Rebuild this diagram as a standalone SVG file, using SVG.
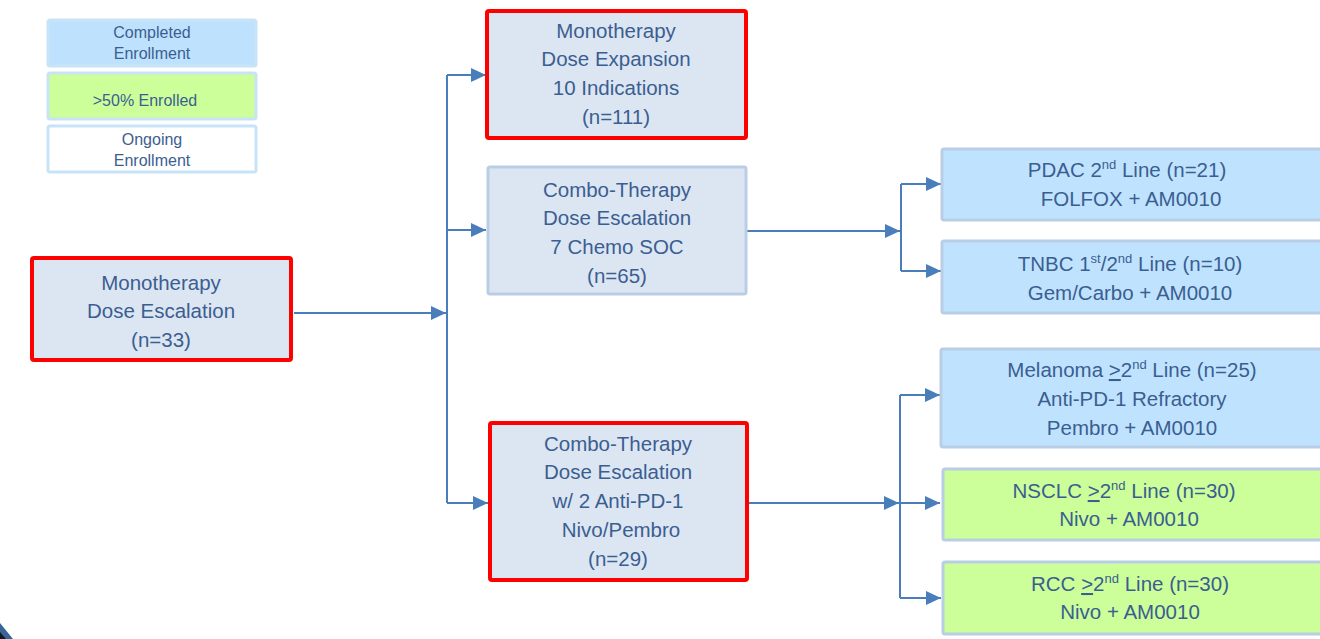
<svg xmlns="http://www.w3.org/2000/svg" width="1320" height="639" viewBox="0 0 1320 639">
  <defs>
    <marker id="arrow" markerUnits="userSpaceOnUse" markerWidth="16" markerHeight="14" refX="15" refY="7" orient="auto">
      <path d="M0,0 L15,7 L0,14 z" fill="#4a7ebb"/>
    </marker>
    <style>
      text { font-family: "Liberation Sans", Arial, sans-serif; fill: #3b5e91; text-anchor: middle; }
      .main { font-size: 20.5px; }
      .legend { font-size: 16px; }
      .sup { font-size: 13px; }
      .red { fill: #dce6f2; stroke: #ff0000; stroke-width: 4; }
      .grey { fill: #dce6f2; stroke: #b9cde5; stroke-width: 3; }
      .done { fill: #bfe3fe; stroke: #b9cde5; stroke-width: 3; }
      .half { fill: #ccfe99; stroke: #b9cde5; stroke-width: 3; }
      .leg { stroke: #c8e3f8; stroke-width: 3; }
      .conn { fill: none; stroke: #4a7ebb; stroke-width: 2; }
      .ul { text-decoration: underline; }
    </style>
  </defs>

  <rect x="0" y="0" width="1320" height="639" fill="#ffffff"/>

  <!-- legend -->
  <g id="legend">
    <rect class="leg" x="48" y="20" width="208" height="46" rx="2" fill="#bee2fd"/>
    <text class="legend" x="152" y="38">Completed</text>
    <text class="legend" x="152" y="59">Enrollment</text>
    <rect class="leg" x="48" y="73" width="208" height="46" rx="2" fill="#ccfe99"/>
    <text class="legend" x="145" y="106">&gt;50% Enrolled</text>
    <rect class="leg" x="48" y="126" width="208" height="46" rx="2" fill="#ffffff"/>
    <text class="legend" x="152" y="145">Ongoing</text>
    <text class="legend" x="152" y="166">Enrollment</text>
  </g>

  <!-- connectors -->
  <g id="connectors">
    <path class="conn" d="M294,313 H446" marker-end="url(#arrow)"/>
    <path class="conn" d="M447,75 V503"/>
    <path class="conn" d="M447,75 H486" marker-end="url(#arrow)"/>
    <path class="conn" d="M447,230 H486" marker-end="url(#arrow)"/>
    <path class="conn" d="M447,503 H488" marker-end="url(#arrow)"/>

    <path class="conn" d="M747,231 H900" marker-end="url(#arrow)"/>
    <path class="conn" d="M901,184 V271"/>
    <path class="conn" d="M901,184 H941" marker-end="url(#arrow)"/>
    <path class="conn" d="M901,271 H941" marker-end="url(#arrow)"/>

    <path class="conn" d="M748,503 H899" marker-end="url(#arrow)"/>
    <path class="conn" d="M900,395 V598"/>
    <path class="conn" d="M900,395 H940" marker-end="url(#arrow)"/>
    <path class="conn" d="M900,503 H940" marker-end="url(#arrow)"/>
    <path class="conn" d="M900,598 H941" marker-end="url(#arrow)"/>
  </g>

  <!-- first stage -->
  <g id="mono-escalation">
    <rect class="red" x="32" y="258" width="259" height="102" rx="2"/>
    <text class="main" x="161" y="290">Monotherapy</text>
    <text class="main" x="161" y="318">Dose Escalation</text>
    <text class="main" x="161" y="347">(n=33)</text>
  </g>

  <!-- second stage -->
  <g id="mono-expansion">
    <rect class="red" x="487" y="11" width="259" height="127" rx="2"/>
    <text class="main" x="616" y="38">Monotherapy</text>
    <text class="main" x="616" y="66">Dose Expansion</text>
    <text class="main" x="616" y="95">10 Indications</text>
    <text class="main" x="616" y="124">(n=111)</text>
  </g>

  <g id="combo-chemo">
    <rect class="grey" x="488" y="167" width="258" height="127" rx="2"/>
    <text class="main" x="617" y="197">Combo-Therapy</text>
    <text class="main" x="617" y="225">Dose Escalation</text>
    <text class="main" x="617" y="254">7 Chemo SOC</text>
    <text class="main" x="617" y="283">(n=65)</text>
  </g>

  <g id="combo-pd1">
    <rect class="red" x="490" y="423" width="257" height="157" rx="2"/>
    <text class="main" x="618" y="451">Combo-Therapy</text>
    <text class="main" x="618" y="479">Dose Escalation</text>
    <text class="main" x="618" y="508">w/ 2 Anti-PD-1</text>
    <text class="main" x="621" y="537">Nivo/Pembro</text>
    <text class="main" x="618" y="566">(n=29)</text>
  </g>

  <!-- indication cohorts -->
  <g id="pdac">
    <rect class="done" x="942" y="149" width="380" height="71" rx="2"/>
    <text class="main" x="1127" y="177">PDAC 2<tspan class="sup" dy="-8">nd</tspan><tspan dy="8"> Line (n=21)</tspan></text>
    <text class="main" x="1131" y="206">FOLFOX + AM0010</text>
  </g>

  <g id="tnbc">
    <rect class="done" x="942" y="241" width="380" height="72" rx="2"/>
    <text class="main" x="1130" y="271">TNBC 1<tspan class="sup" dy="-8">st</tspan><tspan dy="8">/2</tspan><tspan class="sup" dy="-8">nd</tspan><tspan dy="8"> Line (n=10)</tspan></text>
    <text class="main" x="1130" y="300">Gem/Carbo + AM0010</text>
  </g>

  <g id="melanoma">
    <rect class="done" x="941" y="349" width="381" height="98" rx="2"/>
    <text class="main" x="1132" y="377">Melanoma <tspan class="ul">&gt;</tspan>2<tspan class="sup" dy="-8">nd</tspan><tspan dy="8"> Line (n=25)</tspan></text>
    <text class="main" x="1132" y="406">Anti-PD-1 Refractory</text>
    <text class="main" x="1132" y="435">Pembro + AM0010</text>
  </g>

  <g id="nsclc">
    <rect class="half" x="943" y="469" width="379" height="71" rx="2"/>
    <text class="main" x="1124" y="498">NSCLC <tspan class="ul">&gt;</tspan>2<tspan class="sup" dy="-8">nd</tspan><tspan dy="8"> Line (n=30)</tspan></text>
    <text class="main" x="1129" y="526">Nivo + AM0010</text>
  </g>

  <g id="rcc">
    <rect class="half" x="943" y="562" width="379" height="72" rx="2"/>
    <text class="main" x="1130" y="591">RCC <tspan class="ul">&gt;</tspan>2<tspan class="sup" dy="-8">nd</tspan><tspan dy="8"> Line (n=30)</tspan></text>
    <text class="main" x="1130" y="619">Nivo + AM0010</text>
  </g>

  <!-- corner of the slide backdrop -->
  <g id="corner">
    <polygon points="0,623 13,639 0,639" fill="#3a6496"/>
    <polygon points="0,632 6,639 0,639" fill="#111827"/>
  </g>
</svg>
